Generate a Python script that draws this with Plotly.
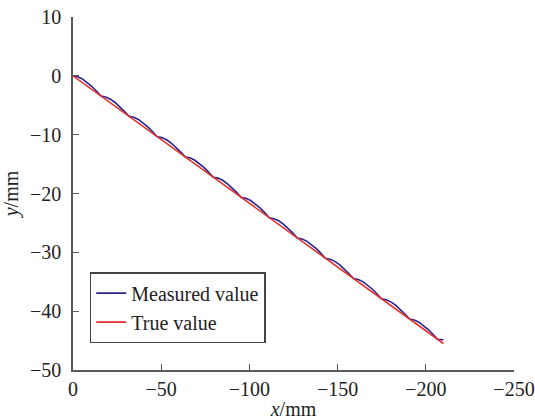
import plotly.graph_objects as go

# Measured curve
x_meas = [0, -2.65, -5.3, -7.95, -10.6, -13.25, -15.9, -18.55, -21.2, -23.85, -26.5, -29.15,
          -31.8, -34.45, -37.1, -39.75, -42.4, -45.05, -47.7, -50.35, -53, -55.65, -58.3, -60.95,
          -63.6, -66.25, -68.9, -71.55, -74.2, -76.85, -79.5, -82.15, -84.8, -87.45, -90.1, -92.75,
          -95.4, -98.05, -100.7, -103.35, -106, -108.65, -111.3, -113.95, -116.6, -119.25, -121.9,
          -124.55, -127.2, -129.85, -132.5, -135.15, -137.8, -140.45, -143.1, -145.75, -148.4,
          -151.05, -153.7, -156.35, -159, -161.65, -164.3, -166.95, -169.6, -172.25, -174.9,
          -177.55, -180.2, -182.85, -185.5, -188.15, -190.8, -193.45, -196.1, -198.75, -201.4,
          -204.05, -206.7, -210]
y_meas = [0.00, -0.16, -0.53, -1.08, -1.78, -2.58, -3.45, -3.61, -3.97, -4.53, -5.22, -6.03,
          -6.89, -7.05, -7.42, -7.97, -8.67, -9.47, -10.34, -10.50, -10.86, -11.42, -12.11, -12.92,
          -13.78, -13.94, -14.31, -14.86, -15.56, -16.36, -17.23, -17.39, -17.75, -18.31, -19.00,
          -19.81, -20.67, -20.83, -21.20, -21.75, -22.45, -23.25, -24.12, -24.28, -24.64, -25.20,
          -25.89, -26.70, -27.56, -27.72, -28.09, -28.64, -29.34, -30.14, -31.01, -31.17, -31.53,
          -32.09, -32.78, -33.59, -34.45, -34.61, -34.98, -35.53, -36.23, -37.03, -37.90, -38.06,
          -38.42, -38.98, -39.67, -40.48, -41.34, -41.50, -41.87, -42.42, -43.12, -43.92, -44.79,
          -44.85]

# True value line
x_true = [0, -210]
y_true = [0, -45.5]

x_ticks = [0, -50, -100, -150, -200, -250]
y_ticks = [10, 0, -10, -20, -30, -40, -50]

font_family = "Liberation Serif"
axis_color = "#5a5a5a"

fig = go.Figure()
fig.add_trace(go.Scatter(x=x_meas, y=y_meas, mode="lines", name="Measured value",
                         line=dict(color="#26268e", width=1.6)))
fig.add_trace(go.Scatter(x=x_true, y=y_true, mode="lines", name="True value",
                         line=dict(color="#e8302a", width=1.6)))

fig.update_layout(
    width=535, height=420,
    margin=dict(l=73, r=21, t=17, b=50),
    paper_bgcolor="white", plot_bgcolor="white",
    font=dict(family=font_family, size=20, color="#222222"),
    showlegend=True,
    legend=dict(x=0.038, y=0.076, xanchor="left", yanchor="bottom",
                bgcolor="white", bordercolor="#444444", borderwidth=1.5,
                font=dict(family=font_family, size=20, color="#222222"),
                tracegroupgap=0, itemwidth=30),
    xaxis=dict(range=[0, -250], tickvals=x_ticks, ticks="inside", ticklen=6,
               tickcolor=axis_color, tickwidth=1.2,
               showline=True, linecolor=axis_color, linewidth=1.5,
               showgrid=False, zeroline=False, mirror=False, automargin=False,
               ticklabelstandoff=0, ticklabeloverflow="allow",
               title=dict(text="<i>x</i>/mm", standoff=12,
                          font=dict(family=font_family, size=20)),
               tickfont=dict(family=font_family, size=20)),
    yaxis=dict(range=[-50, 10], tickvals=y_ticks, ticks="inside", ticklen=6,
               tickcolor=axis_color, tickwidth=1.2,
               showline=True, linecolor=axis_color, linewidth=1.5,
               showgrid=False, zeroline=False, mirror=False, automargin=False,
               ticklabelstandoff=6, ticklabeloverflow="allow",
               title=dict(text="<i>y</i>/mm", standoff=8,
                          font=dict(family=font_family, size=20)),
               tickfont=dict(family=font_family, size=20)),
)

fig.write_html("out.html")
